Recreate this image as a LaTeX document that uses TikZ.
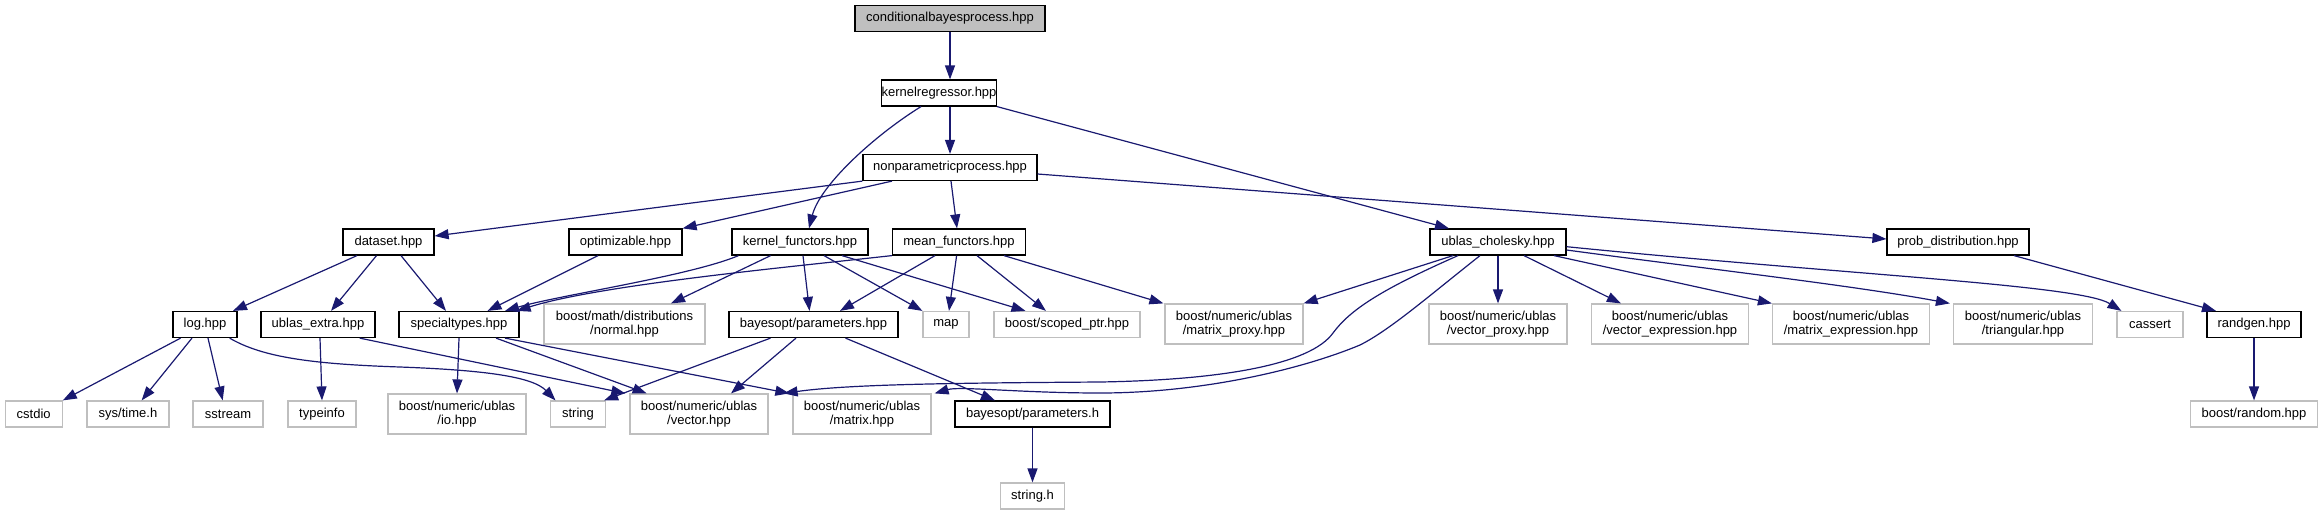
\documentclass[tikz,border=0pt]{standalone}
\usepackage{fontspec}
\setmainfont{Liberation Sans}
\usetikzlibrary{arrows.meta}
\definecolor{edgec}{HTML}{191970}
\definecolor{gbord}{HTML}{BFBFBF}
\definecolor{rootfill}{HTML}{BFBFBF}
\begin{document}
\begin{tikzpicture}[x=1pt,y=-1pt,
  box/.style={inner sep=0pt, minimum height=26pt, line width=1.2pt, align=center, font=\fontsize{13}{14}\selectfont},
  inc/.style={box, draw=black, fill=white},
  ext/.style={box, draw=gbord, fill=white},
  two/.style={minimum height=40pt},
  root/.style={box, draw=black, fill=rootfill},
  e/.style={draw=edgec, line width=1.2pt, -{Triangle[length=14pt,width=10pt]}},
]
\useasboundingbox (0,0) rectangle (2323,515);
% row 0-2
\node[root, minimum width=190pt] (cbp) at (950,18.5) {conditionalbayesprocess.hpp};
\node[inc, minimum width=114pt] (kr) at (939,93) {kernelregressor.hpp};
\node[inc, minimum width=174pt] (np) at (950,167.5) {nonparametricprocess.hpp};
% row 3
\node[inc, minimum width=91pt] (ds) at (388.5,242) {dataset.hpp};
\node[inc, minimum width=113pt] (opt) at (625.5,242) {optimizable.hpp};
\node[inc, minimum width=136pt] (kf) at (800,242) {kernel\_functors.hpp};
\node[inc, minimum width=133pt] (mf) at (959,242) {mean\_functors.hpp};
\node[inc, minimum width=136pt] (ch) at (1498,242) {ublas\_cholesky.hpp};
\node[inc, minimum width=142pt] (pd) at (1958,242) {prob\_distribution.hpp};
% row 4
\node[inc, minimum width=64pt] (log) at (205,324.5) {log.hpp};
\node[inc, minimum width=114pt] (ue) at (318,324.5) {ublas\_extra.hpp};
\node[inc, minimum width=120pt] (st) at (459,324.5) {specialtypes.hpp};
\node[ext, two, minimum width=161pt] (nrm) at (624.5,324) {boost/math/distributions\\/normal.hpp};
\node[inc, minimum width=169pt] (bph) at (813.5,324.5) {bayesopt/parameters.hpp};
\node[ext, minimum width=46pt] (map) at (946,324.5) {map};
\node[ext, minimum width=146pt] (sp) at (1067,324.5) {boost/scoped\_ptr.hpp};
\node[ext, two, minimum width=138pt] (mp) at (1234,324) {boost/numeric/ublas\\/matrix\_proxy.hpp};
\node[ext, two, minimum width=138pt] (vp) at (1498,324) {boost/numeric/ublas\\/vector\_proxy.hpp};
\node[ext, two, minimum width=157pt] (ve) at (1670,324) {boost/numeric/ublas\\/vector\_expression.hpp};
\node[ext, two, minimum width=157pt] (me) at (1851,324) {boost/numeric/ublas\\/matrix\_expression.hpp};
\node[ext, two, minimum width=139pt] (tri) at (2023,324) {boost/numeric/ublas\\/triangular.hpp};
\node[ext, minimum width=66pt] (cas) at (2150,324.5) {cassert};
\node[inc, minimum width=94pt] (rg) at (2254,324.5) {randgen.hpp};
% row 5
\node[ext, minimum width=57pt] (cst) at (33.7,414) {cstdio};
\node[ext, minimum width=82pt] (sys) at (128,414) {sys/time.h};
\node[ext, minimum width=70pt] (sst) at (228,414) {sstream};
\node[ext, minimum width=68pt] (ti) at (322,414) {typeinfo};
\node[ext, two, minimum width=138pt] (io) at (457,414) {boost/numeric/ublas\\/io.hpp};
\node[ext, minimum width=55pt] (str) at (578,414) {string};
\node[ext, two, minimum width=138pt] (vec) at (699,414) {boost/numeric/ublas\\/vector.hpp};
\node[ext, two, minimum width=138pt] (mat) at (862,414) {boost/numeric/ublas\\/matrix.hpp};
\node[inc, minimum width=155pt] (bh) at (1032.5,414) {bayesopt/parameters.h};
\node[ext, minimum width=127pt] (rnd) at (2254,414) {boost/random.hpp};
% row 6
\node[ext, minimum width=64pt] (sh) at (1032.5,496) {string.h};

% edges
\draw[e] (cbp.south) -- (cbp.south |- kr.north);
\draw[e] (kr.south -| np.north) -- (np.north);
\draw[e] ([xshift=-18pt]kr.south) .. controls (875,135) and (820,185) .. ([xshift=9pt]kf.north);
\draw[e] (kr.south east) -- ([xshift=-49pt]ch.north);
\draw[e] (np.south west) -- ([yshift=6pt]ds.east);
\draw[e] ([xshift=-58pt]np.south) -- (opt.north east);
\draw[e] ([xshift=1pt]np.south) -- ([xshift=-2pt]mf.north);
\draw[e] ([yshift=-6.5pt]np.east) -- ([yshift=3pt]pd.west);

\draw[e] ([xshift=-31.5pt]ds.south) -- ([xshift=28pt]log.north);
\draw[e] ([xshift=-12pt]ds.south) -- ([xshift=13pt]ue.north);
\draw[e] ([xshift=12.5pt]ds.south) -- ([xshift=-13pt]st.north);
\draw[e] ([xshift=-27.5pt]opt.south) -- ([xshift=28.5pt]st.north);
\draw[e] ([xshift=-61.5pt]kf.south) .. controls (690,276) and (560,295) .. ([xshift=46pt]st.north);
\draw[e] (mf.south west) .. controls (780,268) and (600,285) .. ([xshift=57.6pt]st.north);
\draw[e] ([xshift=-29.4pt]kf.south) -- ([xshift=46.5pt]nrm.north);
\draw[e] ([xshift=3pt]kf.south) -- ([xshift=-4pt]bph.north);
\draw[e] ([xshift=24pt]kf.south) -- (map.north west);
\draw[e] ([xshift=42pt]kf.south) -- ([xshift=-41.5pt]sp.north);
\draw[e] ([xshift=-24pt]mf.south) -- ([xshift=26.5pt]bph.north);
\draw[e] ([xshift=-2.4pt]mf.south) -- ([xshift=3pt]map.north);
\draw[e] ([xshift=18pt]mf.south) -- ([xshift=-21pt]sp.north);
\draw[e] ([xshift=45pt]mf.south) -- ([xshift=-1pt]mp.north west);

\draw[e] ([xshift=-24.4pt]log.south) -- (cst.north east);
\draw[e] ([xshift=-13pt]log.south) -- ([xshift=13.6pt]sys.north);
\draw[e] ([xshift=3pt]log.south) -- ([xshift=-5.3pt]sst.north);
\draw[e] ([xshift=24.6pt]log.south) .. controls (262,357) and (310,364) .. (400,367)
   .. controls (480,370) and (532,376) .. ([xshift=-22.5pt]str.north);
\draw[e] ([xshift=2pt]ue.south) -- (ti.north);
\draw[e] ([xshift=41.7pt]ue.south) -- ([xshift=-4pt]vec.north west);
\draw[e] (st.south) -- (io.north);
\draw[e] ([xshift=37pt]st.south) -- ([xshift=-52.3pt]vec.north);
\draw[e] ([xshift=46pt]st.south) -- ([xshift=-3pt]mat.north west);
\draw[e] ([xshift=-43pt]bph.south) -- ([xshift=-2pt]str.north east);
\draw[e] ([xshift=-17.5pt]bph.south) -- ([xshift=32pt]vec.north);
\draw[e] ([xshift=32pt]bph.south) -- ([xshift=-37.5pt]bh.north);
\draw[e] (bh.south) -- (sh.north);

\draw[e] ([xshift=-45pt]ch.south) -- (mp.north east);
\draw[e] ([xshift=-40pt]ch.south) .. controls (1380,290) and (1350,310) .. (1333,333)
   .. controls (1310,365) and (1220,380) .. (1100,382)
   .. controls (960,383) and (850,384) .. ([xshift=15pt]vec.north east);
\draw[e] ([xshift=-18pt]ch.south) .. controls (1430,295) and (1390,330) .. (1360,345)
   .. controls (1300,370) and (1200,393) .. (1100,393)
   .. controls (1020,393) and (960,386) .. ([xshift=3pt]mat.north east);
\draw[e] (ch.south) -- (vp.north);
\draw[e] ([xshift=26pt]ch.south) -- ([xshift=30pt]ve.north west);
\draw[e] ([xshift=56pt]ch.south) -- (me.north west);
\draw[e] ([yshift=-8pt]ch.east) .. controls (1700,268) and (1850,285) .. ([xshift=-3pt]tri.north west);
\draw[e] ([yshift=-4.7pt]ch.east) .. controls (1850,275) and (2080,285) .. ([xshift=5pt]cas.north west);
\draw[e] ([xshift=56pt]pd.south) -- ([xshift=-38pt]rg.north);
\draw[e] (rg.south) -- (rnd.north);
\end{tikzpicture}
\end{document}
